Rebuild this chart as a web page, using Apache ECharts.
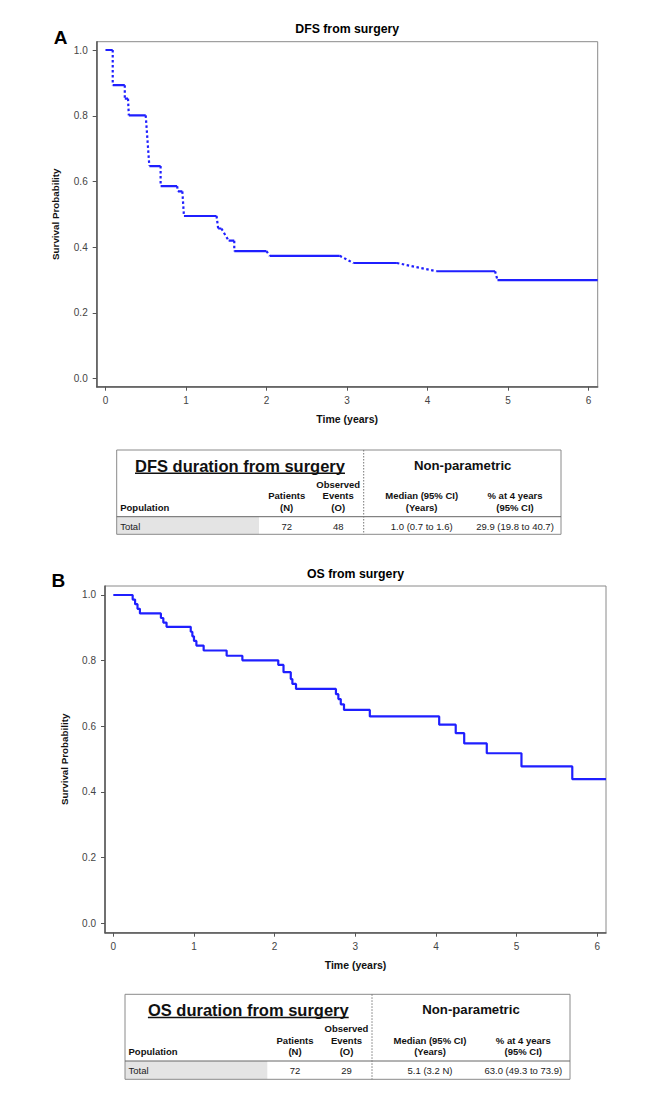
<!DOCTYPE html>
<html>
<head>
<meta charset="utf-8">
<script src="https://cdn.jsdelivr.net/npm/echarts@6/dist/echarts.min.js"></script>
<style>
html,body{margin:0;padding:0;background:#fff;}
#chart{width:656px;height:1103px;}
</style>
</head>
<body>
<div id="chart"></div>
<script>
// ---------- data ----------
const xTicks = [0, 1, 2, 3, 4, 5, 6];
const yTicks = [0, 0.2, 0.4, 0.6, 0.8, 1.0];

// DFS curve: plateaus (start time, end time, survival)
const dfsStart = [0,    0.09,  0.24,  0.29,  0.545, 0.685, 0.90,  0.975, 1.40,  1.53,  1.60,  2.04,  3.08,  4.11,  4.87];
const dfsEnd   = [0.09, 0.24,  0.28,  0.50,  0.685, 0.89,  0.955, 1.38,  1.44,  1.60,  2.00,  2.91,  3.62,  4.84,  6.115];
const dfsSurv  = [1.0,  0.893, 0.852, 0.801, 0.647, 0.586, 0.570, 0.495, 0.457, 0.420, 0.388, 0.374, 0.352, 0.327, 0.300];

// OS curve: event times and survival after each event
const osTime = [0, 0.24, 0.27, 0.30, 0.33, 0.59, 0.62, 0.66, 0.96, 0.98, 1.00, 1.03, 1.12, 1.405, 1.60, 2.045, 2.11, 2.20, 2.22, 2.265, 2.76, 2.79, 2.82, 2.86, 3.18, 4.04, 4.245, 4.35, 4.63, 5.06, 5.69, 6.108];
const osSurv = [1.0, 0.986, 0.972, 0.958, 0.944, 0.930, 0.916, 0.903, 0.888, 0.874, 0.860, 0.846, 0.831, 0.815, 0.801, 0.787, 0.765, 0.744, 0.729, 0.714, 0.698, 0.683, 0.667, 0.650, 0.630, 0.605, 0.579, 0.548, 0.518, 0.478, 0.439, 0.439];

const chartTitles = ['DFS from surgery', 'OS from surgery'];
const panelLetters = ['A', 'B'];
const xAxisName = 'Time (years)';
const yAxisName = 'Survival Probability';

const tableTitles = ['DFS duration from surgery', 'OS duration from surgery'];
const tableGroup = 'Non-parametric';
const colHeaders = ['Population', 'Patients\n(N)', 'Observed\nEvents\n(O)', 'Median (95% CI)\n(Years)', '% at 4 years\n(95% CI)'];
const dfsRow = ['Total', '72', '48', '1.0 (0.7 to 1.6)', '29.9 (19.8 to 40.7)'];
const osRow  = ['Total', '72', '29', '5.1 (3.2 N)', '63.0 (49.3 to 73.9)'];

// ---------- build ----------
const FONT = '"Liberation Sans", Arial, sans-serif';
const BLUE = '#1f1fff';

const dfsPlateaus = [];
const dfsDrops = [];
for (let i = 0; i < dfsSurv.length; i++) {
  dfsPlateaus.push([dfsStart[i], dfsSurv[i]], [dfsEnd[i], dfsSurv[i]], [dfsEnd[i], '-']);
  if (i < dfsSurv.length - 1) {
    dfsDrops.push([dfsEnd[i], dfsSurv[i]], [dfsStart[i + 1], dfsSurv[i + 1]], [dfsStart[i + 1], '-']);
  }
}
const osData = osTime.map((t, i) => [t, osSurv[i]]);

const measureCtx = document.createElement('canvas').getContext('2d');
function textWidth(text, size, weight) {
  measureCtx.font = weight + ' ' + size + 'px ' + FONT;
  return measureCtx.measureText(text).width;
}

function makeX(gi, min, max) {
  return {
    type: 'value', gridIndex: gi, min: min, max: max,
    name: xAxisName, nameLocation: 'middle', nameGap: 27,
    nameTextStyle: {fontFamily: FONT, fontWeight: 'bold', fontSize: 10.5, color: '#111'},
    axisLine: {show: true, onZero: false, lineStyle: {color: '#555', width: 1.5}},
    axisTick: {show: true, length: 4, customValues: xTicks, lineStyle: {color: '#555', width: 1}},
    axisLabel: {customValues: xTicks, margin: 9, fontFamily: FONT, fontSize: 10, color: '#444',
      formatter: v => String(v)},
    splitLine: {show: false}
  };
}
function makeY(gi, min, max) {
  return {
    type: 'value', gridIndex: gi, min: min, max: max,
    name: yAxisName, nameLocation: 'middle', nameGap: 36,
    nameTextStyle: {fontFamily: FONT, fontWeight: 'bold', fontSize: 9.8, color: '#111'},
    axisLine: {show: true, onZero: false, lineStyle: {color: '#555', width: 1.5}},
    axisTick: {show: true, length: 4, customValues: yTicks, lineStyle: {color: '#555', width: 1}},
    axisLabel: {customValues: yTicks, margin: 9, fontFamily: FONT, fontSize: 10, color: '#444',
      formatter: v => Number(v).toFixed(1)},
    splitLine: {show: false}
  };
}

function txt(text, x, y, opts) {
  opts = opts || {};
  return {
    type: 'text', silent: true,
    style: {
      text: text, x: x, y: y,
      align: opts.align || 'center', textAlign: opts.align || 'center',
      verticalAlign: 'middle', textVerticalAlign: 'middle',
      fontFamily: FONT, fontSize: opts.size || 10, fontWeight: opts.weight || 'normal',
      fill: opts.color || '#111'
    }
  };
}

function buildTable(L, T, W, H, title, row) {
  const els = [];
  els.push({type: 'rect', silent: true, shape: {x: L, y: T + 66.7, width: 142.3, height: H - 66.7}, style: {fill: '#e4e4e4'}});
  els.push({type: 'rect', silent: true, shape: {x: L, y: T, width: W, height: H}, style: {fill: 'none', stroke: '#8a8a8a', lineWidth: 1}});
  els.push({type: 'line', silent: true, shape: {x1: L, y1: T + 66.7, x2: L + W, y2: T + 66.7}, style: {stroke: '#666', lineWidth: 1}});
  els.push({type: 'line', silent: true, shape: {x1: L + 247, y1: T, x2: L + 247, y2: T + H}, style: {stroke: '#777', lineWidth: 1, lineDash: [1.5, 1.5]}});
  els.push(txt(title, L + 123.3, T + 15.5, {size: 16.5, weight: 'bold'}));
  const tw = textWidth(title, 16.5, 'bold');
  els.push({type: 'line', silent: true, shape: {x1: L + 123.3 - tw / 2, y1: T + 23.2, x2: L + 123.3 + tw / 2, y2: T + 23.2}, style: {stroke: '#111', lineWidth: 1.5}});
  els.push(txt(tableGroup, L + 346, T + 15.5, {size: 13.2, weight: 'bold'}));
  const cx = [3.5, 170, 221.5, 305, 398.3];
  const lineGap = 11.6;
  colHeaders.forEach((h, i) => {
    const lines = h.split('\n');
    lines.forEach((ln, j) => {
      const y = T + 57.5 - (lines.length - 1 - j) * lineGap;
      els.push(txt(ln, L + cx[i], y, {size: 9.5, weight: 'bold', align: i === 0 ? 'left' : 'center'}));
    });
  });
  row.forEach((v, i) => {
    els.push(txt(v, L + cx[i], T + 76, {size: 9.5, align: i === 0 ? 'left' : 'center', color: '#222'}));
  });
  return els;
}

const graphics = [];
graphics.push(txt(panelLetters[0], 60.5, 37, {size: 19, weight: 'bold', color: '#000'}));
graphics.push(txt(panelLetters[1], 58.3, 580.5, {size: 19, weight: 'bold', color: '#000'}));
graphics.push(txt(chartTitles[0], 347.2, 29, {size: 12.3, weight: 'bold', color: '#000'}));
graphics.push(txt(chartTitles[1], 355.5, 574, {size: 12.3, weight: 'bold', color: '#000'}));
buildTable(116.7, 450, 444.3, 84.3, tableTitles[0], dfsRow).forEach(e => graphics.push(e));
buildTable(125, 994.3, 445, 85, tableTitles[1], osRow).forEach(e => graphics.push(e));

const option = {
  animation: false,
  backgroundColor: '#fff',
  grid: [
    {left: 96.7, top: 41.7, width: 501, height: 345, show: true, borderColor: '#8a8a8a', borderWidth: 1, containLabel: false},
    {left: 105, top: 586, width: 501, height: 346.7, show: true, borderColor: '#8a8a8a', borderWidth: 1, containLabel: false}
  ],
  xAxis: [makeX(0, -0.109, 6.115), makeX(1, -0.103, 6.108)],
  yAxis: [makeY(0, -0.0243, 1.0253), makeY(1, -0.0286, 1.0274)],
  series: [
    {type: 'line', xAxisIndex: 0, yAxisIndex: 0, data: dfsPlateaus, showSymbol: false, symbol: 'none',
     connectNulls: false, lineStyle: {color: BLUE, width: 2.2}, z: 3},
    {type: 'line', xAxisIndex: 0, yAxisIndex: 0, data: dfsDrops, showSymbol: false, symbol: 'none',
     connectNulls: false, lineStyle: {color: BLUE, width: 2.2, type: [2.5, 2.5]}, z: 3},
    {type: 'line', xAxisIndex: 1, yAxisIndex: 1, data: osData, step: 'end', showSymbol: false, symbol: 'none',
     lineStyle: {color: BLUE, width: 2.2}, z: 3}
  ],
  graphic: graphics
};

const chart = echarts.init(document.getElementById('chart'), null, {renderer: 'svg', width: 656, height: 1103});
chart.setOption(option);
</script>
</body>
</html>
